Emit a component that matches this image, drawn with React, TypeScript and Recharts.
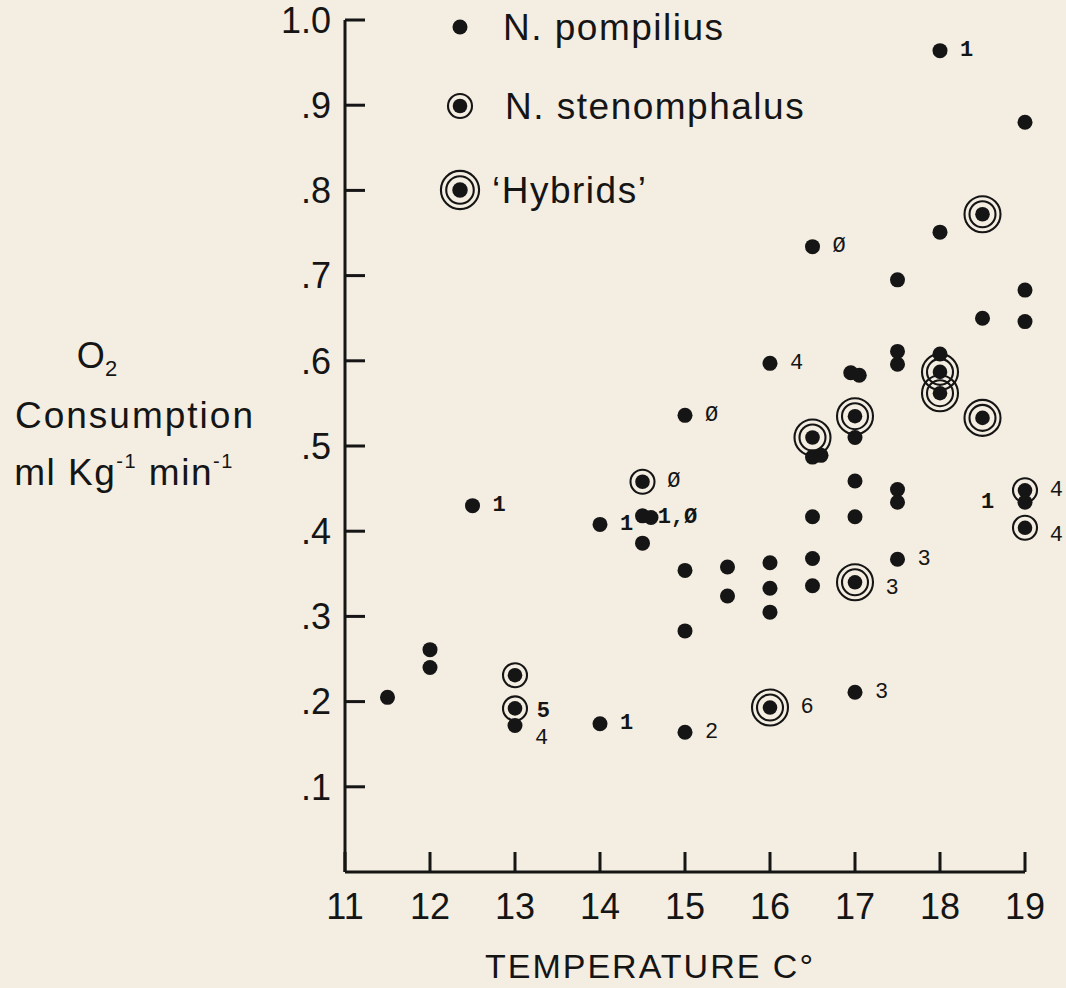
import React from "react";
import { ScatterChart, Scatter, XAxis, YAxis, Legend } from "recharts";

const INK = "#151515";
const PAPER = "#f4ede1";
const SANS = "Liberation Sans, Arial, Helvetica, sans-serif";
const MONO = "Liberation Mono, Courier New, monospace";

// axis ticks
const xTicks = [11, 12, 13, 14, 15, 16, 17, 18, 19];
const yTicks = [0.1, 0.2, 0.3, 0.4, 0.5, 0.6, 0.7, 0.8, 0.9, 1.0];
const yTickLabels = [".1", ".2", ".3", ".4", ".5", ".6", ".7", ".8", ".9", "1.0"];

// N. pompilius
const pompiliusTemp = [
  11.5, 12.0, 12.0, 12.5, 13.0, 14.0, 14.0, 14.5, 14.6, 14.5, 15.0, 15.0, 15.0, 15.0, 15.5, 15.5,
  16.0, 16.0, 16.0, 16.0, 16.5, 16.5, 16.6, 16.5, 16.5, 16.5, 16.95, 17.05, 17.0, 17.0, 17.0, 17.0,
  17.5, 17.5, 17.5, 17.5, 17.5, 17.5, 18.0, 18.0, 18.0, 18.5, 19.0, 19.0, 19.0, 19.0,
];
const pompiliusO2 = [
  0.205, 0.261, 0.24, 0.43, 0.172, 0.408, 0.174, 0.418, 0.416, 0.386, 0.536, 0.354, 0.283, 0.164, 0.358, 0.324,
  0.597, 0.363, 0.333, 0.305, 0.734, 0.487, 0.489, 0.417, 0.368, 0.336, 0.586, 0.583, 0.51, 0.459, 0.417, 0.211,
  0.695, 0.611, 0.596, 0.449, 0.434, 0.367, 0.964, 0.751, 0.608, 0.65, 0.88, 0.683, 0.646, 0.434,
];
const pompiliusNote = [
  "", "", "", "1", "4", "1", "1", "", "1,Ø", "", "Ø", "", "", "2", "", "",
  "4", "", "", "", "Ø", "", "", "", "", "", "", "", "", "", "", "3",
  "", "", "", "", "", "3", "1", "", "", "", "", "", "", "1",
];

// N. stenomphalus
const stenoTemp = [13.0, 13.0, 14.5, 19.0, 19.0];
const stenoO2 = [0.231, 0.192, 0.458, 0.448, 0.404];
const stenoNote = ["", "5", "Ø", "4", "4"];

// 'Hybrids'
const hybridTemp = [16.0, 16.5, 17.0, 17.0, 18.0, 18.0, 18.5, 18.5];
const hybridO2 = [0.193, 0.51, 0.535, 0.34, 0.587, 0.562, 0.772, 0.533];
const hybridNote = ["6", "", "", "3", "", "", "", ""];

const seriesNames = ["N. pompilius", "N. stenomphalus", "‘Hybrids’"];

type Kind = "pompilius" | "steno" | "hybrid";
type Pt = { temp: number; o2: number; note: string; id: string };

const build = (kind: Kind, t: number[], v: number[], n: string[]): Pt[] =>
  t.map((temp, i) => ({ temp, o2: v[i], note: n[i], id: `${kind}-${i}` }));

const pompiliusData = build("pompilius", pompiliusTemp, pompiliusO2, pompiliusNote);
const stenoData = build("steno", stenoTemp, stenoO2, stenoNote);
const hybridData = build("hybrid", hybridTemp, hybridO2, hybridNote);

// annotation placement tweaks (offsets from the default right-hand spot)
const noteNudge: Record<string, { dx?: number; dy?: number }> = {
  "pompilius-4": { dy: 13 },
  "pompilius-45": { dx: -64 },
  "steno-1": { dx: -3, dy: 3 },
  "steno-4": { dy: 8 },
  "hybrid-3": { dy: 6 },
};
const boldNotes = ["1", "5", "1,Ø"];

const outerR: Record<Kind, number> = { pompilius: 7.5, steno: 12.3, hybrid: 18 };

function Symbol({ kind, cx, cy, big = false }: { kind: Kind; cx: number; cy: number; big?: boolean }) {
  const k = big ? 1.06 : 1;
  return (
    <g>
      {kind === "hybrid" && (
        <circle cx={cx} cy={cy} r={18 * k} fill="none" stroke={INK} strokeWidth={2.1} />
      )}
      {kind !== "pompilius" && (
        <circle cx={cx} cy={cy} r={(kind === "hybrid" ? 13 : 12) * k} fill="none" stroke={INK} strokeWidth={2.1} />
      )}
      <circle cx={cx} cy={cy} r={(kind === "pompilius" ? 7.5 : 7.3) * k} fill={INK} />
    </g>
  );
}

const makeShape = (kind: Kind) => (props: any) => {
  const { cx, cy, payload } = props;
  if (cx == null || cy == null) return <g />;
  const nudge = noteNudge[payload.id] || {};
  const dx = outerR[kind] + 19 + (nudge.dx || 0);
  const dy = nudge.dy || 0;
  return (
    <g>
      <Symbol kind={kind} cx={cx} cy={cy} />
      {payload.note && (
        <text
          x={cx + dx}
          y={cy + dy}
          textAnchor="middle"
          dominantBaseline="central"
          fontFamily={MONO}
          fontSize={22}
          fontWeight={boldNotes.includes(payload.note) ? 700 : 400}
          fill={INK}
        >
          {payload.note}
        </text>
      )}
    </g>
  );
};

const legendKinds: Kind[] = ["pompilius", "steno", "hybrid"];
const legendRowY = [27, 106, 190];
const legendTextX = [63, 65, 52];

const renderLegend = (props: any) => {
  const payload = props.payload || [];
  return (
    <svg width={440} height={230} style={{ overflow: "visible" }}>
      {payload.map((entry: any, i: number) => {
        const idx = seriesNames.indexOf(entry.value);
        const kind = legendKinds[idx >= 0 ? idx : i];
        const row = idx >= 0 ? idx : i;
        return (
          <g key={entry.value}>
            <Symbol kind={kind} cx={20} cy={legendRowY[row]} big={kind === "hybrid"} />
            <text
              x={legendTextX[row]}
              y={legendRowY[row]}
              dominantBaseline="central"
              fontFamily={SANS}
              fontSize={37}
              letterSpacing={1.5}
              fill={INK}
            >
              {entry.value}
            </text>
          </g>
        );
      })}
    </svg>
  );
};

const renderXTitle = (props: any) => {
  const vb = props.viewBox;
  return (
    <text
      x={vb.x + vb.width / 2 - 35}
      y={vb.y + 106}
      textAnchor="middle"
      fontFamily={SANS}
      fontSize={34}
      letterSpacing={2}
      fill={INK}
    >
      TEMPERATURE C°
    </text>
  );
};

const renderYTitle = (props: any) => {
  const vb = props.viewBox;
  const mid = vb.y + vb.height / 2;
  const cx = vb.x - 150;
  return (
    <g fontFamily={SANS} fill={INK}>
      <text x={cx - 38} y={mid - 78} textAnchor="middle" fontSize={36}>
        O<tspan fontSize={22} dy={8}>2</tspan>
      </text>
      <text x={cx} y={mid - 18} textAnchor="middle" fontSize={37} letterSpacing={2}>
        Consumption
      </text>
      <text x={cx - 11} y={mid + 39} textAnchor="middle" fontSize={37} letterSpacing={1.5}>
        ml Kg<tspan fontSize={20} dy={-17}>-1</tspan>
        <tspan dy={17}> min</tspan>
        <tspan fontSize={20} dy={-17}>-1</tspan>
      </text>
    </g>
  );
};

export default function App() {
  return (
    <div style={{ position: "absolute", left: 0, top: 0, width: 1066, height: 988, background: PAPER }}>
      <ScatterChart width={1066} height={988} margin={{ top: 20, right: 41, bottom: 56, left: 285 }}>
        <XAxis
          dataKey="temp"
          type="number"
          domain={[11, 19]}
          ticks={xTicks}
          interval={0}
          height={60}
          tickSize={-20}
          tickMargin={41}
          axisLine={{ stroke: INK, strokeWidth: 3 }}
          tickLine={{ stroke: INK, strokeWidth: 3 }}
          tick={{ fill: INK, fontSize: 36, fontFamily: SANS }}
          label={renderXTitle}
        />
        <YAxis
          dataKey="o2"
          type="number"
          domain={[0, 1]}
          ticks={yTicks}
          interval={0}
          width={60}
          tickSize={-20}
          tickMargin={34}
          tickFormatter={(v: number) => yTickLabels[yTicks.indexOf(v)] ?? ""}
          axisLine={{ stroke: INK, strokeWidth: 3 }}
          tickLine={{ stroke: INK, strokeWidth: 3 }}
          tick={{ fill: INK, fontSize: 36, fontFamily: SANS }}
          label={renderYTitle}
        />
        <Legend
          layout="vertical"
          align="center"
          verticalAlign="middle"
          content={renderLegend}
          wrapperStyle={{ left: 440, top: 0, width: 440, height: 230 }}
        />
        <Scatter
          name={seriesNames[0]}
          data={pompiliusData}
          shape={makeShape("pompilius")}
          fill={INK}
          isAnimationActive={false}
        />
        <Scatter
          name={seriesNames[1]}
          data={stenoData}
          shape={makeShape("steno")}
          fill={INK}
          isAnimationActive={false}
        />
        <Scatter
          name={seriesNames[2]}
          data={hybridData}
          shape={makeShape("hybrid")}
          fill={INK}
          isAnimationActive={false}
        />
      </ScatterChart>
    </div>
  );
}
